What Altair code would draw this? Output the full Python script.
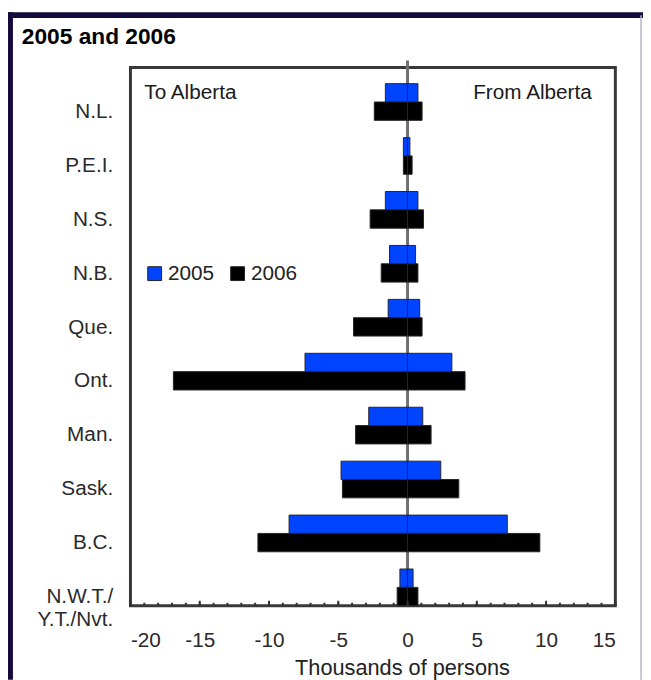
import altair as alt
import pandas as pd

provinces = ["N.L.", "P.E.I.", "N.S.", "N.B.", "Que.", "Ont.", "Man.", "Sask.", "B.C.", "N.W.T./Y.T./Nvt."]
years = ["2005", "2006"]
# Thousands of persons: "to Alberta" shown as negative, "from Alberta" as positive
to_2005 = [-1.6, -0.3, -1.6, -1.3, -1.4, -7.4, -2.8, -4.8, -8.55, -0.55]
from_2005 = [0.75, 0.17, 0.75, 0.58, 0.88, 3.2, 1.1, 2.4, 7.2, 0.4]
to_2006 = [-2.4, -0.3, -2.7, -1.9, -3.9, -16.9, -3.75, -4.7, -10.8, -0.75]
from_2006 = [1.05, 0.33, 1.15, 0.75, 1.05, 4.15, 1.7, 3.7, 9.55, 0.75]
x_labels = [-20, -15, -10, -5, 0, 5, 10, 15]
minor_ticks = list(range(-20, 16))

rows = []
for i, p in enumerate(provinces):
    rows.append({"prov": p, "year": "2005", "value": to_2005[i]})
    rows.append({"prov": p, "year": "2005", "value": from_2005[i]})
    rows.append({"prov": p, "year": "2006", "value": to_2006[i]})
    rows.append({"prov": p, "year": "2006", "value": from_2006[i]})
df = pd.DataFrame(rows)

FONT = "Liberation Sans"
W, H = 491, 545
dummy = pd.DataFrame({"a": [0]})

xscale = alt.Scale(domain=[-20, 15], nice=False, zero=False)
yscale = alt.Scale(domain=provinces, paddingInner=0.32, paddingOuter=0.15, align=1)
yoff = alt.YOffset("year:N", scale=alt.Scale(domain=years, paddingInner=0, paddingOuter=0))

yaxis = alt.Axis(
    title=None, ticks=False, domain=False, grid=False,
    labelFont=FONT, labelFontSize=21, labelColor="#2a2a2a", labelPadding=18,
    labelLineHeight=23, labelOffset=10,
    labelExpr="datum.value == 'N.W.T./Y.T./Nvt.' ? ['N.W.T./', 'Y.T./Nvt.'] : datum.value",
)
xaxis = alt.Axis(
    values=x_labels, ticks=False, domain=False, grid=False,
    labelExpr="'' + datum.value",
    labelFont=FONT, labelFontSize=21, labelColor="#2a2a2a", labelPadding=24,
    title="Thousands of persons", titleFont=FONT, titleFontSize=22,
    titleFontWeight="normal", titleColor="#222", titleX=275, titleY=70,
    titleBaseline="alphabetic",
)

frame_color = "#140a3c"
outer_top = alt.Chart(dummy).mark_rule(color=frame_color, strokeWidth=6).encode(
    x=alt.value(-124), x2=alt.value(520), y=alt.value(-53)
)
outer_left = alt.Chart(dummy).mark_rule(color=frame_color, strokeWidth=6).encode(
    x=alt.value(-122), y=alt.value(-56), y2=alt.value(620)
)
outer_right = alt.Chart(dummy).mark_rule(color="#b8b0c8", strokeWidth=1.5).encode(
    x=alt.value(517), y=alt.value(-53), y2=alt.value(620)
)

title_text = alt.Chart(pd.DataFrame({"t": ["2005 and 2006"]})).mark_text(
    align="left", baseline="alphabetic", font=FONT, fontSize=23, fontWeight="bold", color="#000"
).encode(x=alt.value(-110), y=alt.value(-24), text="t:N")

zero_line = alt.Chart(dummy).mark_rule(color="#707070", strokeWidth=3).encode(
    x=alt.datum(0, scale=xscale), y=alt.value(-7), y2=alt.value(H)
)

bars = alt.Chart(df).mark_bar(stroke="#262626", strokeWidth=1).encode(
    x=alt.X("value:Q", scale=xscale, stack=None, axis=xaxis),
    y=alt.Y("prov:N", scale=yscale, sort=provinces, axis=yaxis),
    yOffset=yoff,
    fill=alt.Fill(
        "year:N",
        scale=alt.Scale(domain=years, range=["#0044ff", "#000000"]),
        legend=alt.Legend(
            orient="none", legendX=14, legendY=198, direction="horizontal",
            title=None, symbolType="square", symbolSize=196,
            symbolStrokeColor="#222", symbolStrokeWidth=1,
            labelFont=FONT, labelFontSize=21, labelColor="#222",
            labelOffset=3, columnPadding=13,
        ),
    ),
)

tick_df = pd.DataFrame({"t": minor_ticks})
major_df = pd.DataFrame({"t": x_labels})
minor = alt.Chart(tick_df).mark_rule(color="#333", strokeWidth=2).encode(
    x=alt.X("t:Q", scale=xscale), y=alt.value(H), y2=alt.value(H - 3)
)
major = alt.Chart(major_df).mark_rule(color="#333", strokeWidth=2).encode(
    x=alt.X("t:Q", scale=xscale), y=alt.value(H), y2=alt.value(H - 5)
)

ann_left = pd.DataFrame({"x": [-19.0], "prov": ["N.L."], "year": ["2005"], "label": ["To Alberta"]})
ann_right = pd.DataFrame({"x": [13.3], "prov": ["N.L."], "year": ["2005"], "label": ["From Alberta"]})
t_left = alt.Chart(ann_left).mark_text(
    align="left", baseline="middle", font=FONT, fontSize=21, color="#1a1a1a"
).encode(x=alt.X("x:Q", scale=xscale), y=alt.Y("prov:N", scale=yscale, sort=provinces), yOffset=yoff, text="label:N")
t_right = alt.Chart(ann_right).mark_text(
    align="right", baseline="middle", font=FONT, fontSize=21, color="#1a1a1a"
).encode(x=alt.X("x:Q", scale=xscale), y=alt.Y("prov:N", scale=yscale, sort=provinces), yOffset=yoff, text="label:N")

chart = alt.layer(
    outer_top, outer_left, outer_right, title_text, zero_line, bars, minor, major, t_left, t_right
).properties(
    width=W, height=H,
    padding={"left": 124, "top": 56, "right": 28, "bottom": 71},
    autosize=alt.AutoSizeParams(type="none"),
    background="white",
).configure_view(
    stroke="#383838", strokeWidth=3
)

chart.save("out.html", embed_options={"renderer": "svg", "actions": False})
